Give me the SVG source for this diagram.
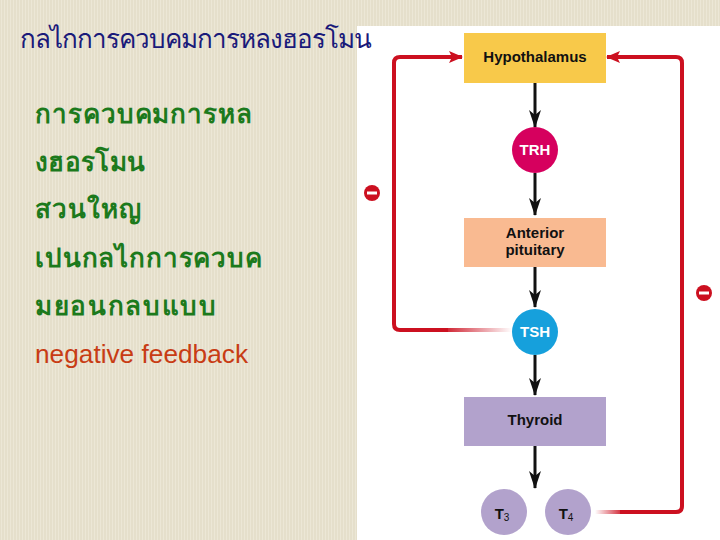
<svg xmlns="http://www.w3.org/2000/svg" width="720" height="540" viewBox="0 0 720 540">
<defs>
<pattern id="stripes" width="3" height="10" patternUnits="userSpaceOnUse">
<rect width="3" height="10" fill="#e5dfcb"/>
<rect x="1" width="1" height="10" fill="#ece7d6"/>
</pattern>
<marker id="ah" markerWidth="18" markerHeight="12" refX="17" refY="6" orient="auto" markerUnits="userSpaceOnUse" viewBox="0 0 18 12">
<path d="M0,0 L18,6 L0,12 L5,6 Z" fill="#111"/>
</marker>
<marker id="rh" markerWidth="14" markerHeight="12" refX="13" refY="6" orient="auto" markerUnits="userSpaceOnUse" viewBox="0 0 14 12">
<path d="M0,0 L14,6 L0,12 L3,6 Z" fill="#cc1020"/>
</marker>
<linearGradient id="fadeL" gradientUnits="userSpaceOnUse" x1="440" y1="0" x2="512" y2="0">
<stop offset="0" stop-color="#cc1020"/>
<stop offset="1" stop-color="#cc1020" stop-opacity="0"/>
</linearGradient>
<linearGradient id="fadeR" gradientUnits="userSpaceOnUse" x1="595" y1="0" x2="625" y2="0">
<stop offset="0" stop-color="#cc1020" stop-opacity="0"/>
<stop offset="1" stop-color="#cc1020"/>
</linearGradient>
<style>
.box{stroke:none}
.lbl{font-family:"Liberation Sans",Arial,sans-serif;font-weight:bold;font-size:15px;fill:#111;text-anchor:middle}
.wl{font-family:"Liberation Sans",Arial,sans-serif;font-weight:bold;font-size:15px;fill:#fff;text-anchor:middle}
.ar{stroke:#111;stroke-width:3;fill:none;marker-end:url(#ah)}
.red{stroke:#cc1020;stroke-width:4;fill:none;stroke-linejoin:round}
.th{font-family:"Noto Sans","DejaVu Sans",sans-serif;font-size:26px}
.green{fill:#1c7a1c;font-weight:bold}
.minus{fill:#cc1020}
</style>
</defs>
<rect width="720" height="540" fill="url(#stripes)"/>
<rect x="357" y="26" width="363" height="514" fill="#fff"/>

<g id="texts">
<text class="th" x="20" y="48" fill="#1a1a7a" textLength="352" lengthAdjust="spacing">กลไกการควบคมการหลงฮอรโมน</text>
<text class="th green" x="35" y="123" textLength="217" lengthAdjust="spacing">การควบคมการหล</text>
<text class="th green" x="35" y="171" textLength="110" lengthAdjust="spacing">งฮอรโมน</text>
<text class="th green" x="35" y="218" textLength="106" lengthAdjust="spacing">สวนใหญ</text>
<text class="th green" x="35" y="267" textLength="227" lengthAdjust="spacing">เปนกลไกการควบค</text>
<text class="th green" x="35" y="315" textLength="181" lengthAdjust="spacing">มยอนกลบแบบ</text>
<text x="35" y="363" font-family="'Liberation Sans',Arial,sans-serif" font-size="26" fill="#c83c14" textLength="213" lengthAdjust="spacingAndGlyphs">negative feedback</text>
</g>

<g id="connectors">
<line class="ar" x1="535" y1="83" x2="535" y2="127"/>
<line class="ar" x1="535" y1="173" x2="535" y2="215"/>
<line class="ar" x1="535" y1="267" x2="535" y2="307"/>
<line class="ar" x1="535" y1="355" x2="535" y2="395"/>
<line class="ar" x1="535" y1="446" x2="535" y2="488"/>
<path class="red" d="M448,330 L400,330 Q394,330 394,324 L394,63 Q394,57 400,57 L462,57" marker-end="url(#rh)"/>
<line x1="440" y1="330" x2="512" y2="330" stroke="url(#fadeL)" stroke-width="4"/>
<path class="red" d="M620,512 L676,512 Q682,512 682,506 L682,63 Q682,57 676,57 L607,57" marker-end="url(#rh)"/>
<line x1="595" y1="512" x2="625" y2="512" stroke="url(#fadeR)" stroke-width="4"/>
<g id="minusL"><circle class="minus" cx="372" cy="193" r="8"/><rect x="367" y="191.5" width="10" height="3" fill="#fff"/></g>
<g id="minusR"><circle class="minus" cx="704" cy="293" r="8"/><rect x="699" y="291.5" width="10" height="3" fill="#fff"/></g>
</g>

<g id="hypothalamus">
<rect class="box" x="464" y="33" width="142" height="50" fill="#f8c94a"/>
<text class="lbl" x="535" y="62">Hypothalamus</text>
</g>
<g id="trh">
<circle cx="535" cy="150" r="23" fill="#d6005e"/>
<text class="wl" x="535" y="155">TRH</text>
</g>
<g id="anterior-pituitary">
<rect class="box" x="464" y="218" width="142" height="49" fill="#f9ba91"/>
<text class="lbl" x="535" y="238">Anterior</text>
<text class="lbl" x="535" y="255">pituitary</text>
</g>
<g id="tsh">
<circle cx="535" cy="332" r="23" fill="#16a0dc"/>
<text class="wl" x="535" y="337">TSH</text>
</g>
<g id="thyroid">
<rect class="box" x="464" y="397" width="142" height="49" fill="#b2a2cc"/>
<text class="lbl" x="535" y="425">Thyroid</text>
</g>
<g id="t3">
<circle cx="504" cy="512" r="23" fill="#b2a2cc"/>
<text class="lbl" x="502" y="519">T<tspan font-size="10" font-weight="normal" dy="2">3</tspan></text>
</g>
<g id="t4">
<circle cx="568" cy="512" r="23" fill="#b2a2cc"/>
<text class="lbl" x="566" y="519">T<tspan font-size="10" font-weight="normal" dy="2">4</tspan></text>
</g>
</svg>
